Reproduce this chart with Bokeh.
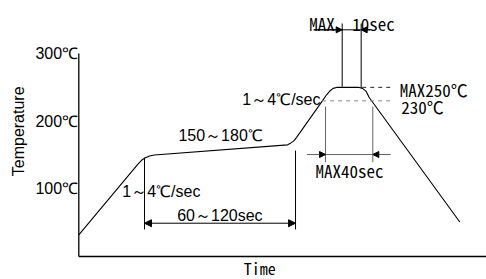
from math import pi
from bokeh.plotting import figure
from bokeh.models import Range1d, Arrow, NormalHead
from bokeh.core.properties import value
from bokeh.embed import file_html
from bokeh.resources import INLINE

# ---- data (time in s, temperature in degC) ----
profile_time = [0, 50, 52.5, 55.5, 59, 63, 174, 176.5, 179, 181.5, 203, 206.5,
                209.5, 212, 215.5, 233, 236.5, 239.5, 242, 317.5]
profile_temp = [32, 138, 142.5, 146, 148.5, 150, 165, 167.5, 170.5, 176, 230, 239,
                245, 248.5, 250, 250, 248.5, 244, 235, 51]

temp_ticks = [100, 200, 300]
temp_tick_labels = ["100℃", "200℃", "300℃"]

preheat_start, preheat_end = 54.75, 180.6      # 60~120sec window
liquid_start, liquid_end = 205.6, 245.0        # MAX40sec window
peak_start, peak_end = 219.5, 235.3            # MAX 10sec window
peak_temp = 250
liquidus_temp = 230

ARIAL = value("Liberation Sans")
GOTHIC = value("Noto Sans Mono CJK JP")

p = figure(width=486, height=279, output_backend="svg", toolbar_location=None,
           x_axis_location=None, y_axis_location=None, min_border=0,
           x_range=Range1d(-65.25, 339.75), y_range=Range1d(-33.99, 378.33))
p.grid.visible = False
p.outline_line_color = None
p.background_fill_color = "white"

# axes drawn as lines
p.line([0, 0], [0, 300], line_color="black", line_width=1.3)
p.line([0, 345], [0, 0], line_color="black", line_width=1.3)
p.text(x=[-0.6] * 3, y=temp_ticks, text=temp_tick_labels, text_align="right",
       text_baseline="middle", text_font=ARIAL, text_font_size="16px", text_color="black")
p.text(x=[-50.3], y=[185], text=["Temperature"], angle=pi / 2, text_align="center",
       text_baseline="middle", text_font=ARIAL, text_font_size="16px", text_color="black")
p.text(x=[150.8], y=[-16.3], text=["Time"], text_align="center", text_baseline="middle",
       text_font=GOTHIC, text_font_size="16px", text_color="black")

# profile
p.line(profile_time, profile_temp, line_color="black", line_width=1.1)

# preheat window 60~120sec
p.segment(x0=[preheat_start, preheat_end], y0=[146, 156.5],
          x1=[preheat_start, preheat_end], y1=[40, 40], line_color="black", line_width=1)
p.add_layout(Arrow(x_start=preheat_start, y_start=49.2, x_end=preheat_end, y_end=49.2,
                   start=NormalHead(size=7, fill_color="black", line_color="black"),
                   end=NormalHead(size=7, fill_color="black", line_color="black"),
                   line_color="black", line_width=1))
p.text(x=[82], y=[60.6], text=["60～120sec"], text_align="left", text_baseline="middle",
       text_font=ARIAL, text_font_size="16px", text_color="black")
p.text(x=[83], y=[178.8], text=["150～180℃"], text_align="left", text_baseline="middle",
       text_font=ARIAL, text_font_size="16px", text_color="black")
p.text(x=[36.2], y=[96], text=["1～4℃/sec"], text_align="left", text_baseline="middle",
       text_font=ARIAL, text_font_size="16px", text_color="black")
p.text(x=[201.4], y=[231.6], text=["1～4℃/sec"], text_align="right", text_baseline="middle",
       text_font=ARIAL, text_font_size="16px", text_color="black")

# liquidus window MAX40sec
grey = "#666666"
p.segment(x0=[liquid_start, liquid_end], y0=[221.7, 221.7],
          x1=[liquid_start, liquid_end], y1=[139.4, 139.4], line_color=grey, line_width=1)
p.line([190.3, 259.75], [150.7, 150.7], line_color=grey, line_width=1)
for xs, xe in [(190.3, liquid_start), (259.75, liquid_end)]:
    p.add_layout(Arrow(x_start=xs, y_start=150.7, x_end=xe, y_end=150.7,
                       end=NormalHead(size=6, fill_color="black", line_color="black"),
                       line_color=grey, line_width=1))
p.text(x=[225.6], y=[127.1], text=["MAX40sec"], text_align="center", text_baseline="middle",
       text_font=GOTHIC, text_font_size="17px", text_color="black")

# temperature reference lines
p.line([236.2, 261.2], [peak_temp, peak_temp], line_color="#222222", line_dash="4 4", line_width=1)
p.line([202.8, 262.6], [liquidus_temp, liquidus_temp], line_color="#888888", line_dash="4 4", line_width=1)
p.text(x=[267.5], y=[246.4], text=["MAX250℃"], text_align="left", text_baseline="middle",
       text_font=GOTHIC, text_font_size="17px", text_color="black")
p.text(x=[268.7], y=[221.7], text=["230℃"], text_align="left", text_baseline="middle",
       text_font=GOTHIC, text_font_size="17px", text_color="black")

# peak window MAX 10sec
p.segment(x0=[peak_start, peak_end], y0=[344.3, 344.3],
          x1=[peak_start, peak_end], y1=[peak_temp + 1, peak_temp - 1], line_color="black", line_width=1)
p.line([195.8, 243], [335, 335], line_color="black", line_width=1)
for xs, xe in [(195.8, peak_start), (243, peak_end)]:
    p.add_layout(Arrow(x_start=xs, y_start=335, x_end=xe, y_end=335,
                       end=NormalHead(size=6, fill_color="black", line_color="black"),
                       line_color="black", line_width=1))
p.text(x=[202.75], y=[344.8], text=["MAX"], text_align="center", text_baseline="middle",
       text_font=GOTHIC, text_font_size="17px", text_color="black")
p.text(x=[227.8], y=[344.8], text=["10sec"], text_align="left", text_baseline="middle",
       text_font=GOTHIC, text_font_size="17px", text_color="black")

open("out.html", "w").write(file_html(p, INLINE))
